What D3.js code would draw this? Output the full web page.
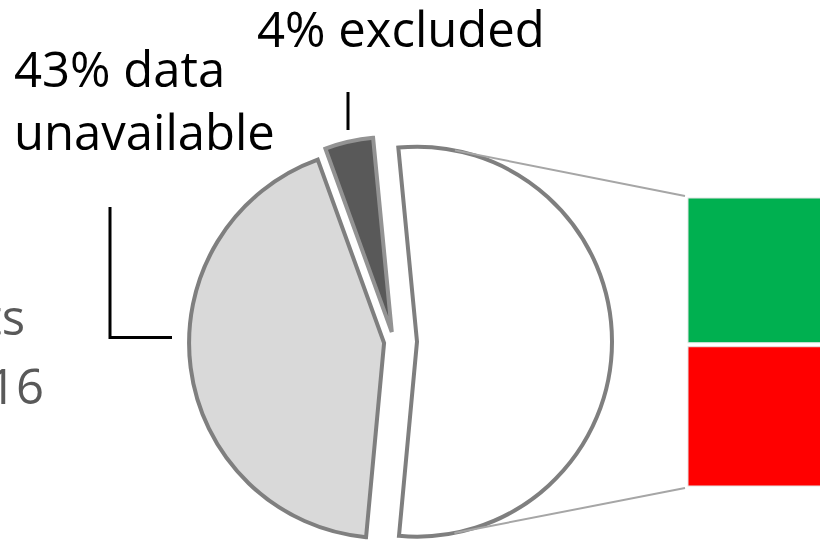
<!DOCTYPE html>
<html>
<head>
<meta charset="utf-8">
<script src="https://cdn.jsdelivr.net/npm/d3@7"></script>
<style>
  html, body { margin: 0; padding: 0; background: #fff; }
  svg { display: block; }
  text { font-family: "Open Sans", "Noto Sans", sans-serif; }
</style>
</head>
<body>
<svg id="chart" width="820" height="542"></svg>
<script>
// Share of records by status (percent of all records)
const sliceNames = ["data unavailable", "excluded", "analysed"];
const sliceValues = [43, 4, 53];
const sliceFills = ["#d9d9d9", "#595959", "#ffffff"];
const sliceStrokes = ["#7f7f7f", "#939393", "#7f7f7f"];

// Breakdown of the analysed slice, drawn as a stacked bar (bottom to top)
const barNames = ["red", "green"];
const barValues = [26, 27];
const barFills = ["#ff0000", "#00b050"];

// Callout labels
const labelUnavailable = ["43% data", "unavailable"];
const labelExcluded = "4% excluded";
const sideLabels = ["ts", "16"];

const svg = d3.select("#chart");

// ---- pie geometry ----
const cx = 394, cy = 341.7, R = 195;
const startDeg = 185.3;
const toRad = d => d * Math.PI / 180;
const explode = [10, 10, 23];

const pie = d3.pie().sort(null)
  .startAngle(toRad(startDeg))
  .endAngle(toRad(startDeg) + 2 * Math.PI);
const arcs = pie(sliceValues);
const arcGen = d3.arc().innerRadius(0).outerRadius(R);

function sliceOffset(a, i) {
  const mid = (a.startAngle + a.endAngle) / 2;
  return [explode[i] * Math.sin(mid), -explode[i] * Math.cos(mid)];
}

const pieG = svg.append("g");
pieG.selectAll("path.slice")
  .data(arcs)
  .join("path")
  .attr("class", "slice")
  .attr("d", arcGen)
  .attr("transform", (a, i) => {
    const [dx, dy] = sliceOffset(a, i);
    return `translate(${cx + dx},${cy + dy})`;
  })
  .attr("fill", (a, i) => sliceFills[i])
  .attr("stroke", (a, i) => sliceStrokes[i])
  .attr("stroke-width", 4)
  .attr("stroke-linejoin", "miter");

// ---- stacked bar for the analysed slice ----
const barX = 688, barW = 160;
const barTotal = d3.sum(barValues);
const y = d3.scaleLinear().domain([0, barTotal]).range([486, 198]);
const stacked = d3.stack().keys(barNames)([Object.fromEntries(barNames.map((n, i) => [n, barValues[i]]))]);

svg.append("g").selectAll("rect")
  .data(stacked)
  .join("rect")
  .attr("x", barX)
  .attr("width", barW)
  .attr("y", s => y(s[0][1]) + (s[0][1] === barTotal ? 0 : 2))
  .attr("height", s => y(s[0][0]) - y(s[0][1]) - (s[0][0] === 0 ? 0 : 2) - (s[0][1] === barTotal ? 0 : 2))
  .attr("fill", (s, i) => barFills[i])
  .attr("stroke", "#e3e3e3")
  .attr("stroke-width", 1);

// ---- connector lines: tangents from the bar corners to the analysed slice ----
const aSlice = arcs[2];
const [odx, ody] = sliceOffset(aSlice, 2);
const ox = cx + odx, oy = cy + ody;
function tangentPoint(px, py, upper) {
  const vx = px - ox, vy = py - oy;
  const d = Math.hypot(vx, vy);
  const phi = Math.atan2(vy, vx);
  const t = Math.acos(R / d);
  const ang = upper ? phi - t : phi + t;
  return [ox + R * Math.cos(ang), oy + R * Math.sin(ang)];
}
const topCorner = [barX - 3, y(barTotal) - 2];
const botCorner = [barX - 3, y(0) + 2];
[[topCorner, true], [botCorner, false]].forEach(([c, up]) => {
  const p = tangentPoint(c[0], c[1], up);
  svg.append("line")
    .attr("x1", p[0]).attr("y1", p[1])
    .attr("x2", c[0]).attr("y2", c[1])
    .attr("stroke", "#a6a6a6")
    .attr("stroke-width", 2);
});

// ---- labels ----
const fs = 49;
svg.append("text")
  .attr("x", 257).attr("y", 47)
  .attr("font-size", fs).attr("fill", "#000")
  .text(labelExcluded);

const ut = svg.append("text").attr("font-size", fs).attr("fill", "#000");
labelUnavailable.forEach((t, i) => {
  ut.append("tspan").attr("x", 14).attr("y", 87 + i * 63).text(t);
});

sideLabels.forEach((t, i) => {
  svg.append("text")
    .attr("x", i === 0 ? 25 : 44)
    .attr("y", i === 0 ? 335 : 404)
    .attr("text-anchor", "end")
    .attr("font-size", fs).attr("fill", "#595959")
    .text(t);
});

// leader lines
svg.append("line")
  .attr("x1", 348).attr("y1", 92).attr("x2", 348).attr("y2", 130)
  .attr("stroke", "#000").attr("stroke-width", 3);
svg.append("path")
  .attr("d", "M110,207 V337.5 H172")
  .attr("fill", "none").attr("stroke", "#000").attr("stroke-width", 3);
</script>
</body>
</html>
